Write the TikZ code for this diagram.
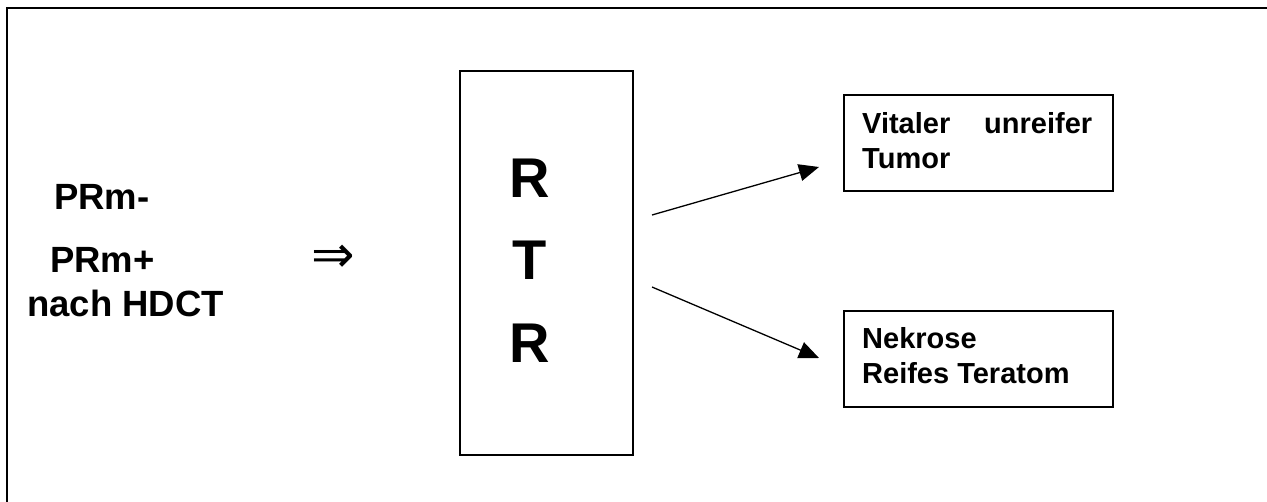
\documentclass[tikz,border=0pt]{standalone}
\usepackage{fontspec}
\setmainfont{Liberation Sans}
\newfontfamily\djv{DejaVu Sans}
\usetikzlibrary{arrows.meta}
\begin{document}
\begin{tikzpicture}[x=1pt,y=-1pt,
  lbl/.style={font=\bfseries\fontsize{36.5}{40}\selectfont, inner sep=0pt, anchor=base west},
  big/.style={font=\bfseries\fontsize{56}{60}\selectfont, inner sep=0pt, anchor=base},
  btxt/.style={font=\bfseries\fontsize{29}{32}\selectfont, inner sep=0pt, anchor=base west},
  boxn/.style={draw, line width=1.3pt, inner sep=0pt},
  arr/.style={line width=1.3pt, -{Triangle[length=20pt,width=17pt]}}]
\useasboundingbox (0,0) rectangle (1267,501);
\fill[white] (0,0) rectangle (1267,501);
% frame
\draw[line width=1.6pt] (7,510) -- (7,8) -- (1275,8);
% left labels
\node[lbl] (l1) at (54,209) {PRm-};
\node[lbl] (l2) at (50,272) {PRm+};
\node[lbl] (l3) at (27,316) {nach HDCT};
\node[inner sep=0pt] (imp) at (333,259) {\djv\fontsize{52}{56}\selectfont ⇒};
% RTR box
\node[boxn, minimum width=173pt, minimum height=384pt] (rtr) at (546.5,263) {};
\node[big] (r1) at (530,197) {R};
\node[big] (t1) at (530,279) {T};
\node[big] (r2) at (530,362) {R};
% result boxes
\node[boxn, minimum width=269pt, minimum height=96pt] (top) at (978.5,143) {};
\node[boxn, minimum width=269pt, minimum height=96pt] (bot) at (978.5,359) {};
\node[btxt] (t11) at (862,133) {\hbox to 230pt{Vitaler\hfill unreifer}};
\node[btxt] (t12) at (862,168) {Tumor};
\node[btxt] (t21) at (862,348) {Nekrose};
\node[btxt] (t22) at (862,383) {Reifes Teratom};
% arrows
\coordinate (a1s) at (652,215);
\coordinate (a1e) at (819,167);
\coordinate (a2s) at (652,287);
\coordinate (a2e) at (819,358);
\draw[arr] (a1s) -- (a1e);
\draw[arr] (a2s) -- (a2e);
\end{tikzpicture}
\end{document}
